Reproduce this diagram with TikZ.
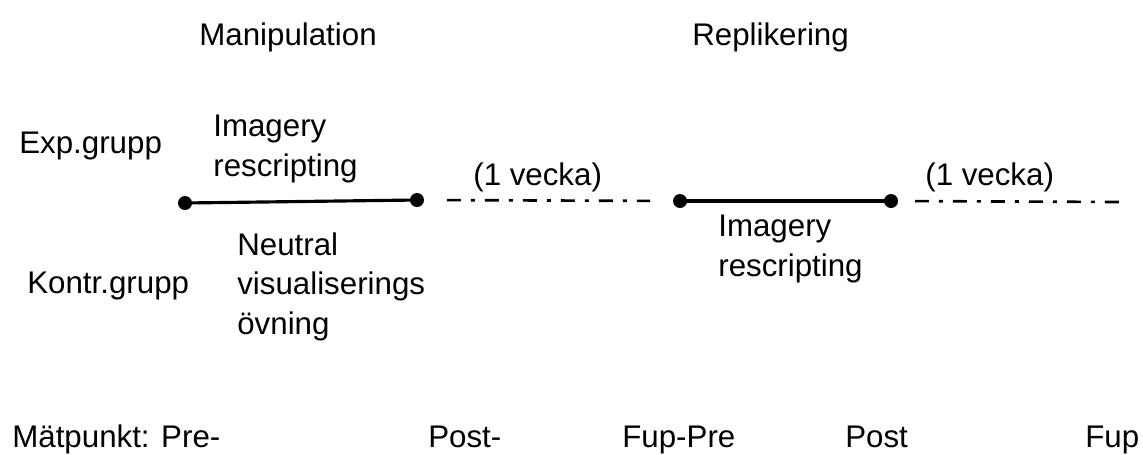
\documentclass[tikz,border=0pt]{standalone}
\usepackage{fontspec}
\setmainfont{Liberation Sans}
\tikzset{
  lbl/.style={inner sep=0pt,font=\fontsize{17.8}{22.7}\selectfont},
  phase/.style={line width=1.8pt},
  week/.style={line width=1.5pt,dash pattern=on 0.28cm off 0.2cm on 0.08cm off 0.2cm},
  dotfill/.style={fill=black}
}
\begin{document}
\begin{tikzpicture}[x=0.02cm,y=-0.02cm]
\useasboundingbox (0,0) rectangle (1143,454);
% Size of the dots
\def\r{0.14cm}

% Headings over the two parts
\node[lbl,anchor=base west] (manip) at (199,45) {Manipulation};
\node[lbl,anchor=base west] (repl) at (692,45) {Replikering};

% Groups
\node[lbl,anchor=base west] (exp) at (19,153) {Exp.grupp};
\node[lbl,anchor=base west] (kontr) at (27,293) {Kontr.grupp};

% Time points on the line
\coordinate (pre) at (185,203);
\coordinate (post) at (417,200);
\coordinate (fpre) at (680,201);
\coordinate (fpost) at (891,201);
\coordinate (fup) at (1120,202);

% Treatments
\draw[phase] (pre) -- (post);
\draw[phase] (fpre) -- (fpost);
\node[lbl,anchor=north west,align=left] (imr1) at (213,115) {Imagery\\rescripting};
\node[lbl,anchor=north west,align=left] (neutral) at (237,232) {Neutral\\visualiserings\\övning};
\node[lbl,anchor=north west,align=left] (imr2) at (718,215) {Imagery\\rescripting};

% The weeks between
\draw[week,shorten <=0.6cm,shorten >=0.6cm] (post) -- (fpre);
\draw[week,shorten <=0.48cm] (fpost) -- (fup);
\node[lbl,anchor=base west] (wk1) at (473,185) {(1 vecka)};
\node[lbl,anchor=base west] (wk2) at (925,185) {(1 vecka)};

% Dots
\foreach \p in {pre,post,fpre,fpost}
  \fill[dotfill] (\p) circle (\r);

% Measure points
\node[lbl,anchor=base west] (mpre) at (12,447) {Mätpunkt: Pre-};
\node[lbl,anchor=base west] (mpost) at (428,447) {Post-};
\node[lbl,anchor=base west] (mfpre) at (622,447) {Fup-Pre};
\node[lbl,anchor=base west] (mfpost) at (845,447) {Post};
\node[lbl,anchor=base west] (mfup) at (1085,447) {Fup};

\end{tikzpicture}
\end{document}
